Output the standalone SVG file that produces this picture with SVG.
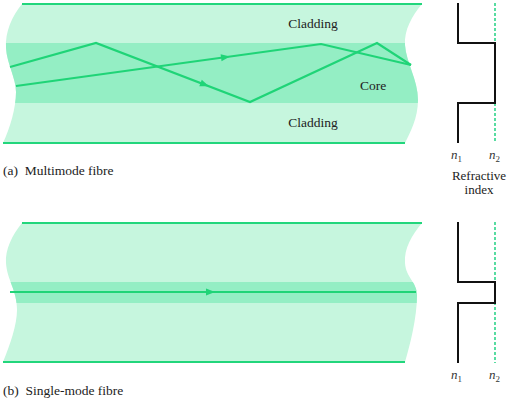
<svg xmlns="http://www.w3.org/2000/svg" xmlns:xlink="http://www.w3.org/1999/xlink" width="511" height="403" viewBox="0 0 511 403">
<style>
.clad{fill:#c6f6de}
.core{fill:#94eec4}
.edge{stroke:#22d67c;stroke-width:2;fill:none}
.ray{stroke:#1fd477;stroke-width:2.2;fill:none;stroke-linejoin:miter}
.ah{fill:#1fd477}
.prof{stroke:#111;stroke-width:2;fill:none}
.dash{stroke:#2fd48a;stroke-width:1.6;stroke-dasharray:3,2;fill:none}
text{font-family:'Liberation Serif','DejaVu Serif',serif;fill:#222;white-space:pre}
.t{font-size:13.5px}
.s{font-size:13px}
.n{font-size:13px;font-style:italic;fill:#333}
.sub{font-size:9px;font-style:normal}
</style>
<defs>
<path id="fibre" d="M22,4 L422,4 C412,16 404,30 405,45 C406,62 418,80 418,100 C418,118 410,133 405,143 L3,143 C10,128 16,108 16,92 C16,78 7,64 6,48 C5,32 12,16 22,4 Z"/>
<path id="fibreB" d="M22,223 L422,223 C412,235 404,248 405,263 C406,278 417,282 417,295 C417,318 410,345 405,362 L3,362 C10,345 17,325 17,310 C17,290 7,280 6,263 C5,250 12,235 22,223 Z"/>
<clipPath id="clipA"><use xlink:href="#fibre"/></clipPath>
<clipPath id="clipB"><use xlink:href="#fibreB"/></clipPath>
<path id="arrowhead" d="M1,0 L-8,-3.5 L-8,3.5 Z"/>
</defs>

<g id="fibre-a">
<use xlink:href="#fibre" class="clad"/>
<rect x="0" y="43" width="430" height="60" class="core" clip-path="url(#clipA)"/>
<line x1="22" y1="4" x2="422" y2="4" class="edge"/>
<line x1="3" y1="143" x2="405" y2="143" class="edge"/>
<text x="313" y="28" class="t" text-anchor="middle">Cladding</text>
<text x="373" y="90" class="t" text-anchor="middle">Core</text>
<text x="313" y="127" class="t" text-anchor="middle">Cladding</text>
</g>

<g id="fibre-b">
<use xlink:href="#fibreB" class="clad"/>
<rect x="0" y="282" width="430" height="21" class="core" clip-path="url(#clipB)"/>
<line x1="22" y1="223" x2="422" y2="223" class="edge"/>
<line x1="3" y1="362" x2="405" y2="362" class="edge"/>
</g>

<g id="connectors">
<polyline points="10,67 96,43 250,102 377,43 411,65" class="ray"/>
<polyline points="16,86 321,44 411,65" class="ray"/>
<use xlink:href="#arrowhead" class="ah" transform="translate(208,85.9) rotate(20.96)"/>
<use xlink:href="#arrowhead" class="ah" transform="translate(229,56.7) rotate(-7.84)"/>
<line x1="10" y1="292" x2="416" y2="292" class="ray"/>
<use xlink:href="#arrowhead" class="ah" transform="translate(214,292)"/>
</g>

<g id="profile-a">
<line x1="495" y1="3" x2="495" y2="143" class="dash"/>
<polyline points="458,3 458,43 495,43 495,103 458,103 458,143" class="prof"/>
<text x="451" y="159" class="n">n<tspan class="sub" dy="3">1</tspan></text>
<text x="489" y="159" class="n">n<tspan class="sub" dy="3">2</tspan></text>
<text x="479" y="180" class="s" text-anchor="middle">Refractive</text>
<text x="479" y="194" class="s" text-anchor="middle">index</text>
</g>

<g id="profile-b">
<line x1="495" y1="222" x2="495" y2="363" class="dash"/>
<polyline points="458,222 458,282 495,282 495,303 458,303 458,363" class="prof"/>
<text x="451" y="379" class="n">n<tspan class="sub" dy="3">1</tspan></text>
<text x="489" y="379" class="n">n<tspan class="sub" dy="3">2</tspan></text>
</g>

<g id="captions">
<text x="3" y="175" class="t">(a)  Multimode fibre</text>
<text x="3" y="395" class="t">(b)  Single-mode fibre</text>
</g>
</svg>
